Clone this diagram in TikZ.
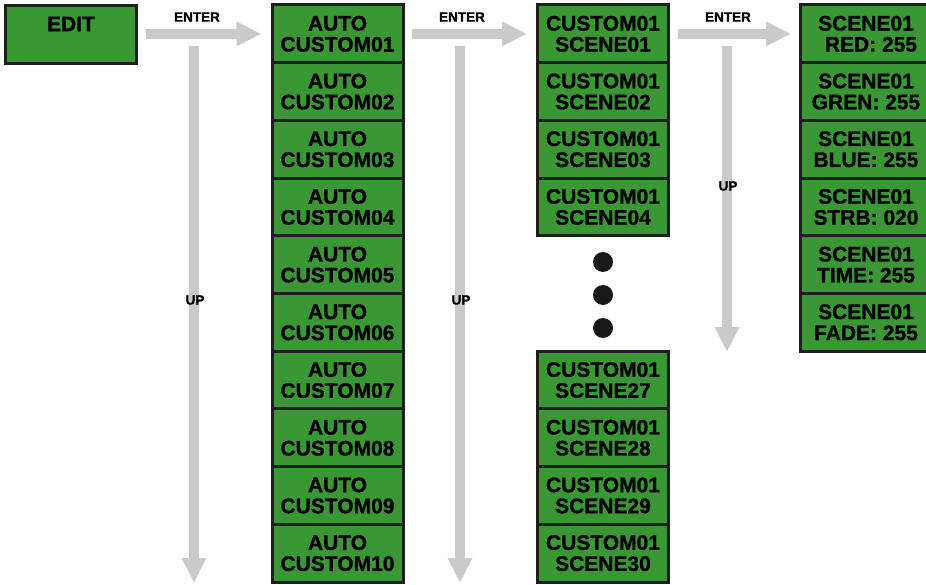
\documentclass[tikz,border=0pt]{standalone}
\usepackage{fontspec}
\setmainfont{Liberation Sans}[BoldFeatures={FakeBold=1.2}]
\usetikzlibrary{arrows.meta}
\definecolor{boxgreen}{RGB}{58,152,52}
\definecolor{boxline}{RGB}{30,30,30}
\definecolor{arrowgray}{RGB}{202,202,202}
\tikzset{
  box/.style={draw=boxline, line width=3pt, fill=boxgreen, minimum width=131pt,
    minimum height=57.7pt, inner sep=0pt, align=center, text=black,
    font=\bfseries\fontsize{21}{21}\selectfont},
  navarrow/.style={draw=arrowgray, line width=10pt,
    -{Triangle[width=23pt,length=25pt]}},
  navlabel/.style={font=\bfseries\fontsize{13.5}{14}\selectfont, text=black, inner sep=0pt},
  dot/.style={circle, fill=black!90, minimum size=20pt, inner sep=0pt}
}
\begin{document}
\begin{tikzpicture}[x=1pt,y=-1pt]
\useasboundingbox (0,0) rectangle (926,585);
% EDIT
\node[box] (edit) at (71,34.5) {EDIT\\\phantom{X}};
% column AUTO
\foreach \i/\n in {1/01,2/02,3/03,4/04,5/05,6/06,7/07,8/08,9/09,10/10}{
  \node[box] (a\i) at (337.5,{5+57.7*(\i-0.5)}) {AUTO\\CUSTOM\n};
}
% column CUSTOM01 top
\foreach \i in {1,2,3,4}{
  \node[box] (c\i) at (603,{5+57.7*(\i-0.5)}) {CUSTOM01\\SCENE0\i};
}
\foreach \i/\n in {1/27,2/28,3/29,4/30}{
  \node[box] (d\i) at (603,{351.2+57.7*(\i-0.5)}) {CUSTOM01\\SCENE\n};
}
\node[dot] (dot1) at (603,262) {};
\node[dot] (dot2) at (603,295) {};
\node[dot] (dot3) at (603,328) {};
% column SCENE01
\foreach \i/\t in {1/{\hspace*{10pt}RED: 255},2/{GREN: 255},3/{BLUE: 255},4/{STRB: 020},5/{TIME: 255},6/{FADE: 255}}{
  \node[box] (s\i) at (866,{5+57.7*(\i-0.5)}) {SCENE01\\\t};
}
% arrows
\coordinate (h1s) at (146,34);
\coordinate (h2s) at (412,34);
\coordinate (h3s) at (678,34);
\coordinate (v1s) at (194,46);
\coordinate (v1e) at (194,583);
\coordinate (v2s) at (460,46);
\coordinate (v2e) at (460,583);
\coordinate (v3s) at (727,46);
\coordinate (v3e) at (727,352);
\draw[navarrow] (h1s) -- ([xshift=-9pt]a1.west);
\draw[navarrow] (h2s) -- ([xshift=-9pt]c1.west);
\draw[navarrow] (h3s) -- ([xshift=-8pt]s1.west);
\draw[navarrow] (v1s) -- (v1e);
\draw[navarrow] (v2s) -- (v2e);
\draw[navarrow] (v3s) -- (v3e);
% labels
\node[navlabel] (l1) at (197,17) {ENTER};
\node[navlabel] (l2) at (462,17) {ENTER};
\node[navlabel] (l3) at (728,17) {ENTER};
\node[navlabel] (u1) at (195,300) {UP};
\node[navlabel] (u2) at (461,300) {UP};
\node[navlabel] (u3) at (728,186) {UP};
\end{tikzpicture}
\end{document}
